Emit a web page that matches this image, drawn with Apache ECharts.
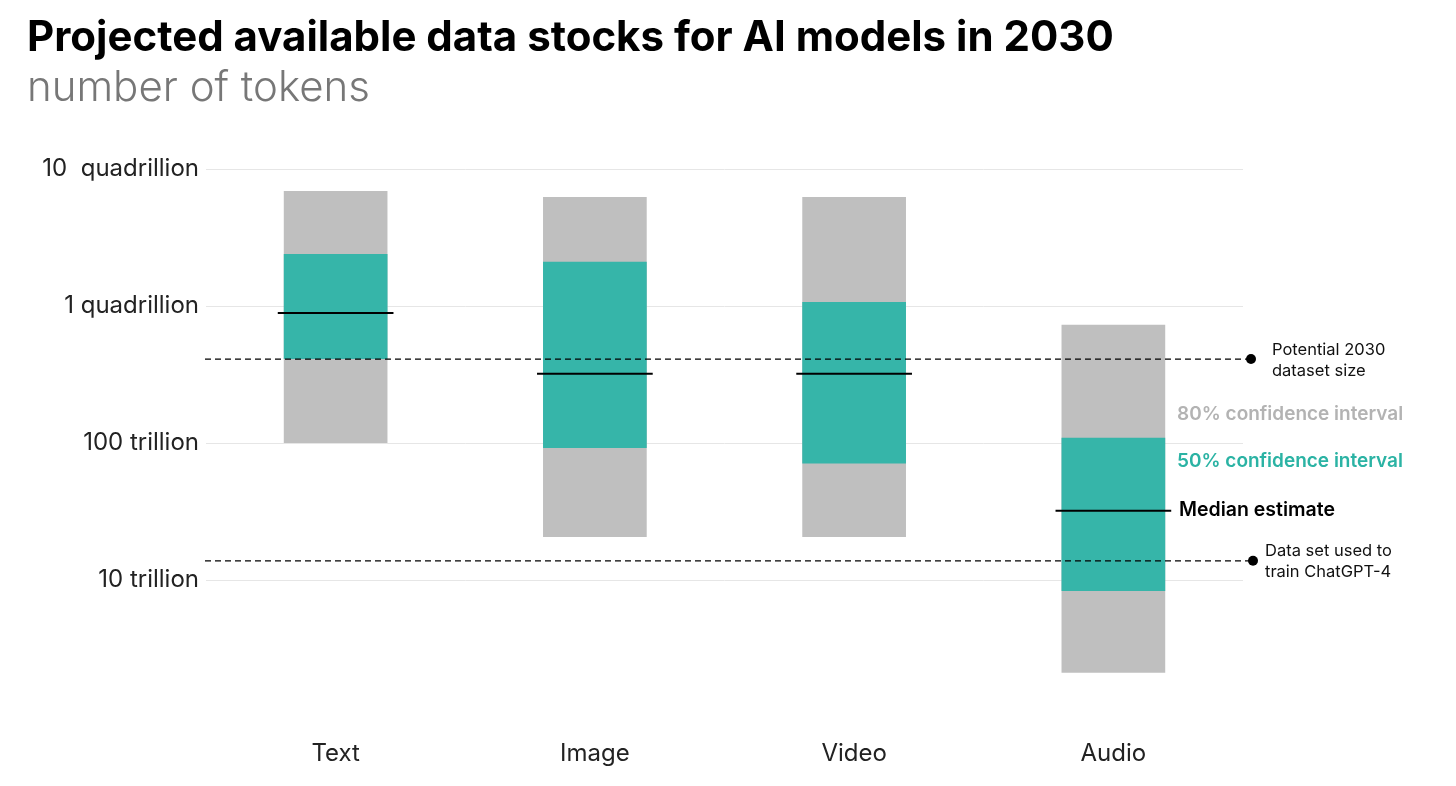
<!DOCTYPE html>
<html>
<head>
<meta charset="utf-8">
<style>
  html, body { margin: 0; padding: 0; background: #fff; }
  #chart-container { width: 1456px; height: 786px; }
</style>
<script src="https://cdn.jsdelivr.net/npm/echarts@6/dist/echarts.min.js"></script>
</head>
<body>
<div id="chart-container"></div>
<script>
const categories = ['Text', 'Image', 'Video', 'Audio'];
// 80% confidence interval
const low80 = [1.0e14, 2.06e13, 2.06e13, 2.1e12];
const high80 = [6.9e15, 6.25e15, 6.25e15, 7.3e14];
// 50% confidence interval
const low50 = [4.1e14, 9.2e13, 7.1e13, 8.3e12];
const high50 = [2.4e15, 2.1e15, 1.07e15, 1.09e14];
const median = [8.9e14, 3.2e14, 3.2e14, 3.2e13];
// reference lines
const refValues = [4.1e14, 1.38e13];
const refLabels = ['Potential 2030\ndataset size', 'Data set used to\ntrain ChatGPT-4'];
// y tick labels, by exponent from 10^12
const yTickLabels = ['', '10 trillion', '100 trillion', '1 quadrillion', '10  quadrillion'];

const FONT = 'Inter, "Noto Sans", sans-serif';
const GREY = '#bfbfbf';
const TEAL = '#36b5a9';
const GRID = '#e6e6e6';
const NONE = 'rgba(0,0,0,0)';

var dom = document.getElementById('chart-container');
var myChart = echarts.init(dom, null, { renderer: 'canvas' });

function bandItem(color) {
  return function (params, api) {
    const i = api.value(0);
    const top = api.coord([i, api.value(2)]);
    const bottom = api.coord([i, api.value(1)]);
    const w = api.size([1, 0])[0] * 0.4;
    return {
      type: 'rect',
      shape: { x: top[0] - w / 2, y: top[1], width: w, height: bottom[1] - top[1] },
      style: { fill: color }
    };
  };
}

var option = {
  animation: false,
  title: {
    text: 'Projected available data stocks for AI models in 2030',
    subtext: 'number of tokens',
    left: 22,
    top: 12,
    itemGap: 8,
    textStyle: { fontFamily: FONT, fontSize: 42, fontWeight: 700, color: '#000' },
    subtextStyle: { fontFamily: FONT, fontSize: 42, fontWeight: 300, color: '#777' }
  },
  grid: { left: 206, right: 213, top: 169, bottom: 69 },
  xAxis: {
    type: 'category',
    data: categories,
    axisLine: { show: false },
    axisTick: { show: false },
    axisLabel: { fontFamily: FONT, fontSize: 24, color: '#222', margin: 25 }
  },
  yAxis: {
    type: 'log',
    logBase: 10,
    min: 1e12,
    max: 1e16,
    splitNumber: 4,
    axisLine: { show: false },
    axisTick: { show: false },
    axisLabel: {
      fontFamily: FONT, fontSize: 24, color: '#222', margin: 7,
      formatter: v => yTickLabels[Math.round(Math.log10(v)) - 12] || ''
    },
    splitLine: {
      // the log axis draws the minimum line twice (colour slots 0 and 1); the reference has none there
      lineStyle: { color: [NONE, NONE, GRID, GRID, GRID, GRID], width: 1 }
    }
  },
  series: [
    {
      name: '80%',
      type: 'custom',
      renderItem: bandItem(GREY),
      encode: { x: 0, y: [1, 2] },
      data: categories.map((c, i) => [i, low80[i], high80[i]]),
      z: 2
    },
    {
      name: '50%',
      type: 'custom',
      renderItem: bandItem(TEAL),
      encode: { x: 0, y: [1, 2] },
      data: categories.map((c, i) => [i, low50[i], high50[i]]),
      z: 3
    },
    {
      name: 'Median',
      type: 'custom',
      renderItem: function (params, api) {
        const i = api.value(0);
        const p = api.coord([i, api.value(1)]);
        const w = api.size([1, 0])[0] * 0.4 + 12;
        return {
          type: 'line',
          shape: { x1: p[0] - w / 2, y1: p[1], x2: p[0] + w / 2, y2: p[1] },
          style: { stroke: '#000', lineWidth: 2 }
        };
      },
      encode: { x: 0, y: 1 },
      data: categories.map((c, i) => [i, median[i]]),
      z: 5
    },
    {
      name: 'Reference',
      type: 'custom',
      renderItem: function (params, api) {
        const idx = params.dataIndex;
        const y = api.coord([0, api.value(1)])[1];
        const cs = params.coordSys;
        const x1 = cs.x - 1;
        const x2 = cs.x + cs.width + 8 + idx * 2;
        return {
          type: 'group',
          children: [
            {
              type: 'line',
              shape: { x1: x1, y1: y, x2: x2, y2: y },
              style: { stroke: '#000', lineWidth: 1.3, lineDash: [6, 4] }
            },
            {
              type: 'circle',
              shape: { cx: x2, cy: y, r: 5 },
              style: { fill: '#000' }
            },
            {
              type: 'text',
              style: {
                text: refLabels[idx],
                x: x2 + 21 - idx * 9,
                y: y + 1,
                align: 'left',
                verticalAlign: 'middle',
                fontFamily: FONT,
                fontSize: 16.5,
                lineHeight: 21,
                fill: '#111'
              }
            }
          ]
        };
      },
      encode: { x: 0, y: 1 },
      data: refValues.map(v => [0, v]),
      z: 4
    }
  ],
  graphic: [
    {
      type: 'text', left: 1177, top: 405,
      style: { text: '80% confidence interval', fontFamily: FONT, fontSize: 19, fontWeight: 600, fill: '#b3b3b3' }
    },
    {
      type: 'text', left: 1177, top: 452,
      style: { text: '50% confidence interval', fontFamily: FONT, fontSize: 19, fontWeight: 600, fill: '#2bb3a4' }
    },
    {
      type: 'text', left: 1179, top: 500,
      style: { text: 'Median estimate', fontFamily: FONT, fontSize: 19.5, fontWeight: 600, fill: '#000' }
    }
  ]
};

if (option && typeof option === 'object') {
  myChart.setOption(option);
}

window.addEventListener('resize', myChart.resize);
</script>
</body>
</html>
